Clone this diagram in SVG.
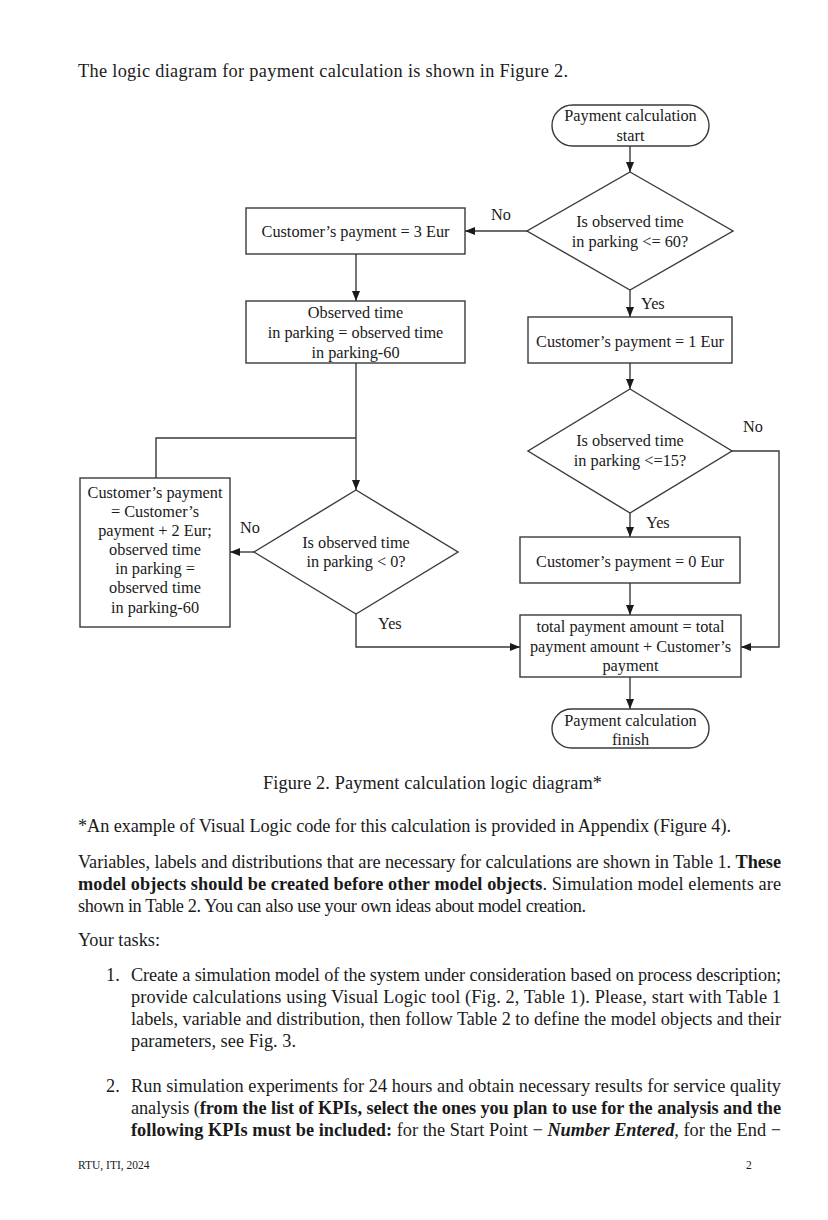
<svg xmlns="http://www.w3.org/2000/svg" width="828" height="1220" viewBox="0 0 828 1220">
<style>
.bg{fill:#ffffff}
.shape{fill:#ffffff;stroke:#3a3a3a;stroke-width:1.4}
.conn{fill:none;stroke:#3a3a3a;stroke-width:1.4}
.t{font-family:"Liberation Serif","Times New Roman",serif;font-size:16.3px;fill:#1a1a1a}
.c{text-anchor:middle}
.body{font-family:"Liberation Serif","Times New Roman",serif;font-size:18.3px;fill:#1a1a1a}
.b{font-weight:bold}
.bi{font-weight:bold;font-style:italic}
.foot{font-family:"Liberation Serif","Times New Roman",serif;font-size:11.5px;fill:#1a1a1a}
</style>
<defs>
<marker id="ah" viewBox="0 0 10 8" refX="10" refY="4" markerWidth="10" markerHeight="8" markerUnits="userSpaceOnUse" orient="auto">
<path d="M0,0 L10,4 L0,8 Z" fill="#1a1a1a"/>
</marker>
</defs>
<rect class="bg" x="0" y="0" width="828" height="1220"/>

<text class="body" x="78" y="77" textLength="490" lengthAdjust="spacing">The logic diagram for payment calculation is shown in Figure 2.</text>

<g id="connectors">
<line class="conn" x1="630" y1="146" x2="630" y2="172" marker-end="url(#ah)"/>
<line class="conn" x1="527" y1="231" x2="465" y2="231" marker-end="url(#ah)"/>
<line class="conn" x1="356" y1="254" x2="356" y2="301" marker-end="url(#ah)"/>
<line class="conn" x1="630" y1="290" x2="630" y2="317" marker-end="url(#ah)"/>
<line class="conn" x1="630" y1="363" x2="630" y2="389" marker-end="url(#ah)"/>
<line class="conn" x1="630" y1="513" x2="630" y2="537" marker-end="url(#ah)"/>
<polyline class="conn" points="732,451 779,451 779,647 741,647" marker-end="url(#ah)"/>
<line class="conn" x1="630" y1="583" x2="630" y2="615" marker-end="url(#ah)"/>
<line class="conn" x1="630" y1="677" x2="630" y2="709" marker-end="url(#ah)"/>
<line class="conn" x1="356" y1="363" x2="356" y2="490" marker-end="url(#ah)"/>
<polyline class="conn" points="156,478 156,438 356,438"/>
<line class="conn" x1="254" y1="552" x2="230" y2="552" marker-end="url(#ah)"/>
<polyline class="conn" points="356,614 356,647 520,647" marker-end="url(#ah)"/>
<text class="t" x="491" y="220">No</text>
<text class="t" x="641" y="309">Yes</text>
<text class="t" x="743" y="432">No</text>
<text class="t" x="646" y="528">Yes</text>
<text class="t" x="240" y="533">No</text>
<text class="t" x="378" y="629">Yes</text>
</g>

<g id="start">
<rect class="shape" x="552" y="105" width="157" height="41" rx="20.5"/>
<text class="t c" x="630.5" y="121">Payment calculation</text>
<text class="t c" x="630.5" y="141">start</text>
</g>

<g id="dec60">
<polygon class="shape" points="630,172 733,231 630,290 527,231"/>
<text class="t c" x="630" y="227">Is observed time</text>
<text class="t c" x="630" y="247">in parking &lt;= 60?</text>
</g>

<g id="pay3">
<rect class="shape" x="246" y="208" width="219" height="46"/>
<text class="t c" x="355.5" y="237">Customer’s payment = 3 Eur</text>
</g>

<g id="sub60">
<rect class="shape" x="246" y="301" width="219" height="62"/>
<text class="t c" x="355.5" y="318">Observed time</text>
<text class="t c" x="355.5" y="338">in parking = observed time</text>
<text class="t c" x="355.5" y="358">in parking-60</text>
</g>

<g id="pay1">
<rect class="shape" x="528" y="317" width="204" height="46"/>
<text class="t c" x="630" y="347">Customer’s payment = 1 Eur</text>
</g>

<g id="dec15">
<polygon class="shape" points="630,389 732,451 630,513 528,451"/>
<text class="t c" x="630" y="446">Is observed time</text>
<text class="t c" x="630" y="466">in parking &lt;=15?</text>
</g>

<g id="pay0">
<rect class="shape" x="520" y="537" width="220" height="46"/>
<text class="t c" x="630" y="567">Customer’s payment = 0 Eur</text>
</g>

<g id="total">
<rect class="shape" x="520" y="615" width="221" height="62"/>
<text class="t c" x="630.5" y="632">total payment amount = total</text>
<text class="t c" x="630.5" y="652">payment amount + Customer’s</text>
<text class="t c" x="630.5" y="671">payment</text>
</g>

<g id="finish">
<rect class="shape" x="552" y="709" width="157" height="39" rx="19.5"/>
<text class="t c" x="630.5" y="726">Payment calculation</text>
<text class="t c" x="630.5" y="745">finish</text>
</g>

<g id="dec0">
<polygon class="shape" points="356,490 458,552 356,614 254,552"/>
<text class="t c" x="356" y="548">Is observed time</text>
<text class="t c" x="356" y="567">in parking &lt; 0?</text>
</g>

<g id="add2">
<rect class="shape" x="80" y="478" width="150" height="149"/>
<text class="t c" x="155" y="498">Customer’s payment</text>
<text class="t c" x="155" y="517">= Customer’s</text>
<text class="t c" x="155" y="536">payment + 2 Eur;</text>
<text class="t c" x="155" y="555">observed time</text>
<text class="t c" x="155" y="574">in parking =</text>
<text class="t c" x="155" y="593">observed time</text>
<text class="t c" x="155" y="613">in parking-60</text>
</g>

<text class="body" x="263" y="789" textLength="339" lengthAdjust="spacing">Figure 2. Payment calculation logic diagram*</text>
<text class="body" x="78" y="832" textLength="653" lengthAdjust="spacing">*An example of Visual Logic code for this calculation is provided in Appendix (Figure 4).</text>
<text class="body" x="78" y="868" textLength="703" lengthAdjust="spacing">Variables, labels and distributions that are necessary for calculations are shown in Table 1. <tspan class="b">These</tspan></text>
<text class="body" x="78" y="890" textLength="703" lengthAdjust="spacing"><tspan class="b">model objects should be created before other model objects</tspan>. Simulation model elements are</text>
<text class="body" x="78" y="912" textLength="508" lengthAdjust="spacing">shown in Table 2. You can also use your own ideas about model creation.</text>
<text class="body" x="78" y="946" textLength="82" lengthAdjust="spacing">Your tasks:</text>
<text class="body" x="106" y="981">1.</text>
<text class="body" x="131" y="981" textLength="650" lengthAdjust="spacing">Create a simulation model of the system under consideration based on process description;</text>
<text class="body" x="131" y="1003" textLength="650" lengthAdjust="spacing">provide calculations using Visual Logic tool (Fig. 2, Table 1). Please, start with Table 1</text>
<text class="body" x="131" y="1025" textLength="650" lengthAdjust="spacing">labels, variable and distribution, then follow Table 2 to define the model objects and their</text>
<text class="body" x="131" y="1047" textLength="165" lengthAdjust="spacing">parameters, see Fig. 3.</text>
<text class="body" x="106" y="1092">2.</text>
<text class="body" x="131" y="1092" textLength="650" lengthAdjust="spacing">Run simulation experiments for 24 hours and obtain necessary results for service quality</text>
<text class="body" x="131" y="1114" textLength="650" lengthAdjust="spacing">analysis (<tspan class="b">from the list of KPIs, select the ones you plan to use for the analysis and the</tspan></text>
<text class="body" x="131" y="1136" textLength="650" lengthAdjust="spacing"><tspan class="b">following KPIs must be included:</tspan> for the Start Point − <tspan class="bi">Number Entered</tspan>, for the End −</text>
<text class="foot" x="78" y="1169">RTU, ITI, 2024</text>
<text class="foot" x="746" y="1169">2</text>
</svg>
